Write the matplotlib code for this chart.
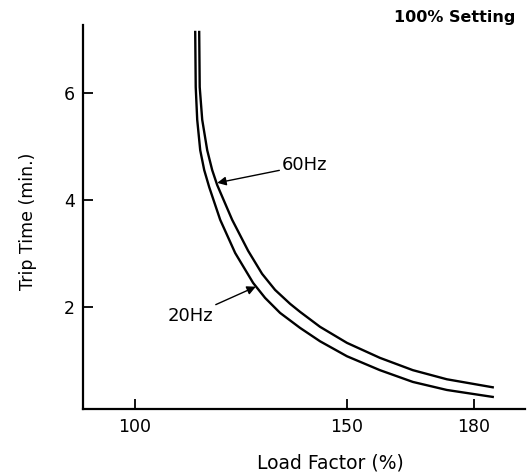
import matplotlib.pyplot as plt

# (load factor %, trip time min.)
load_20hz = [114.31, 114.43, 114.78, 115.49, 116.43, 117.61, 120.20, 123.73, 127.97,
             130.79, 134.32, 139.03, 143.74, 150.09, 157.86, 165.63, 173.63, 184.46]
trip_20hz = [7.14, 6.11, 5.50, 4.93, 4.56, 4.24, 3.63, 3.01, 2.45,
             2.17, 1.89, 1.61, 1.36, 1.08, 0.82, 0.60, 0.45, 0.32]
load_60hz = [115.25, 115.37, 115.96, 117.14, 118.31, 119.49, 123.02, 126.79, 130.08,
             133.14, 136.68, 139.03, 143.74, 150.09, 157.86, 165.63, 173.63, 184.46]
trip_60hz = [7.14, 6.11, 5.50, 4.93, 4.56, 4.28, 3.63, 3.05, 2.62,
             2.32, 2.06, 1.91, 1.63, 1.33, 1.05, 0.82, 0.65, 0.50]

xticks = [100, 150, 180]
yticks = [2, 4, 6]

plt.rcParams['font.family'] = ['DejaVu Sans']

fig = plt.figure(figsize=(5.3, 4.72), dpi=100)
ax = fig.add_axes([0.157, 0.133, 0.833, 0.814])

ax.plot(load_20hz, trip_20hz, color='black', lw=1.7, solid_joinstyle='round')
ax.plot(load_60hz, trip_60hz, color='black', lw=1.7, solid_joinstyle='round')

ax.set_xlim(87.9, 192.0)
ax.set_ylim(0.09, 7.27)
ax.set_xticks(xticks)
ax.set_yticks(yticks)
ax.tick_params(direction='in', length=7, width=1.3, labelsize=12.5, pad=6, color='black')

for s in ['top', 'right']:
    ax.spines[s].set_visible(False)
for s in ['left', 'bottom']:
    ax.spines[s].set_linewidth(1.6)

ax.set_ylabel('Trip Time (min.)', fontsize=12.5)
ax.yaxis.set_label_coords(-0.105, 0.49)
ax.set_xlabel('Load Factor (%)', fontsize=13.5)
ax.xaxis.set_label_coords(0.56, -0.115)

ax.annotate('60Hz', xy=(119.5, 4.32), xytext=(134.8, 4.65), fontsize=13,
            va='center', ha='left',
            arrowprops=dict(arrowstyle='-|>', color='black', lw=1.0, shrinkA=0, shrinkB=0))
ax.annotate('20Hz', xy=(128.6, 2.38), xytext=(118.5, 1.83), fontsize=13,
            va='center', ha='right',
            arrowprops=dict(arrowstyle='-|>', color='black', lw=1.0, shrinkA=0, shrinkB=0))

fig.text(0.972, 0.962, '100% Setting', fontsize=11.5, fontweight='bold', ha='right', va='center')

fig.savefig('out.png', dpi=100)
